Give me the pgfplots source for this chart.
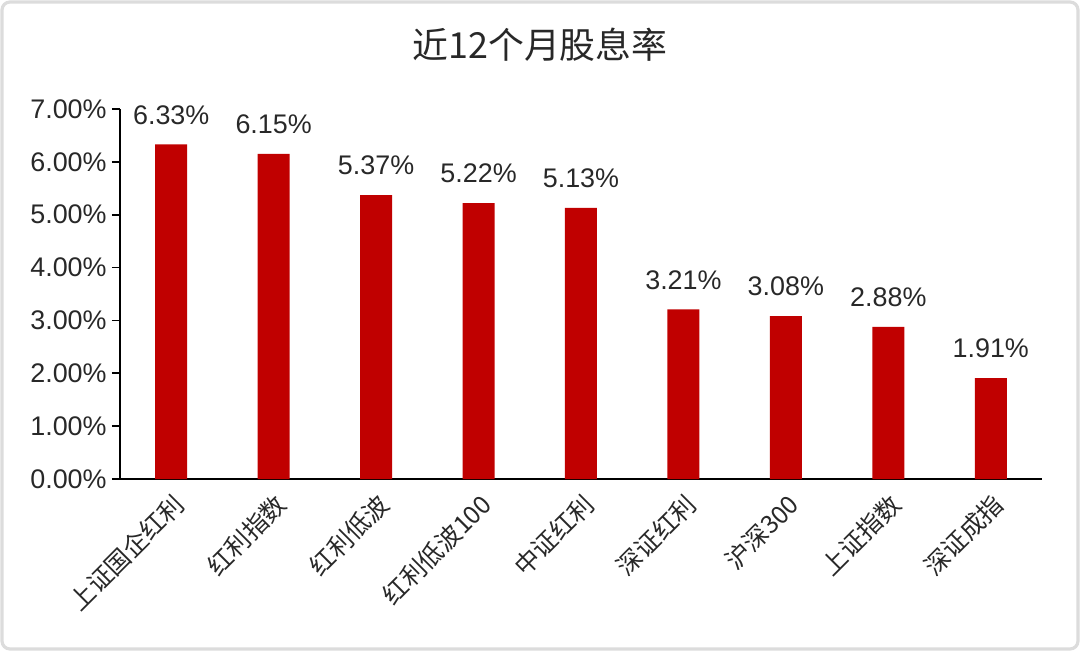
\documentclass[border=0pt]{standalone}
\usepackage{fontspec}
\setmainfont{Liberation Sans}
\newfontfamily\cjk{Noto Sans CJK SC}
\usepackage{pgfplots}
\pgfplotsset{compat=1.18}
\definecolor{barRed}{RGB}{192,0,0}
\definecolor{txtGray}{RGB}{40,40,40}
\definecolor{frameGray}{RGB}{220,220,220}

\begin{document}
\begin{tikzpicture}
  % page is 540bp x 325.5bp, i.e. 0.5bp per reference pixel
  \path[use as bounding box] (0,0) rectangle (540bp,325.5bp);
  \draw[frameGray, line width=1.6bp, rounded corners=4bp] (1bp,1bp) rectangle (539bp,324.5bp);
  \node[font=\cjk\fontsize{18}{20}\selectfont, text=txtGray] at (270bp,303bp) {近12个月股息率};
  \begin{axis}[
      at={(60bp,86bp)}, anchor=south west,
      scale only axis, width=461bp, height=185bp,
      xmin=-0.5, xmax=8.5, ymin=0, ymax=7,
      ytick={0,1,...,7},
      xtick={0,...,8},
      xticklabels={上证国企红利,红利指数,红利低波,红利低波100,中证红利,深证红利,沪深300,上证指数,深证成指},
      x tick label style={font=\cjk\fontsize{12.5}{14}\selectfont, text=txtGray, rotate=45, anchor=north east, inner sep=1.5bp},
      y tick label style={font=\fontsize{13.5}{15}\selectfont, text=txtGray, inner sep=2.5bp},
      yticklabel={\pgfmathprintnumber[fixed,fixed zerofill,precision=2]{\tick}\%},
      /pgf/number format/assume math mode=true,
      axis x line*=bottom, axis y line*=left,
      axis line style={black, line width=1bp, -},
      major x tick style={draw=none},
      ytick style={black, line width=0.8bp},
      tick align=outside, major tick length=4bp,
      ybar, bar width=16bp,
      nodes near coords={\pgfmathprintnumber[fixed,fixed zerofill,precision=2]{\pgfplotspointmeta}\%},
      every node near coord/.append style={font=\fontsize{13.5}{15}\selectfont, text=txtGray, yshift=6.5bp},
      clip=false,
    ]
    \addplot[fill=barRed, draw=none] coordinates {
      (0,6.33) (1,6.15) (2,5.37) (3,5.22) (4,5.13) (5,3.21) (6,3.08) (7,2.88) (8,1.91)
    };
  \end{axis}
\end{tikzpicture}
\end{document}
